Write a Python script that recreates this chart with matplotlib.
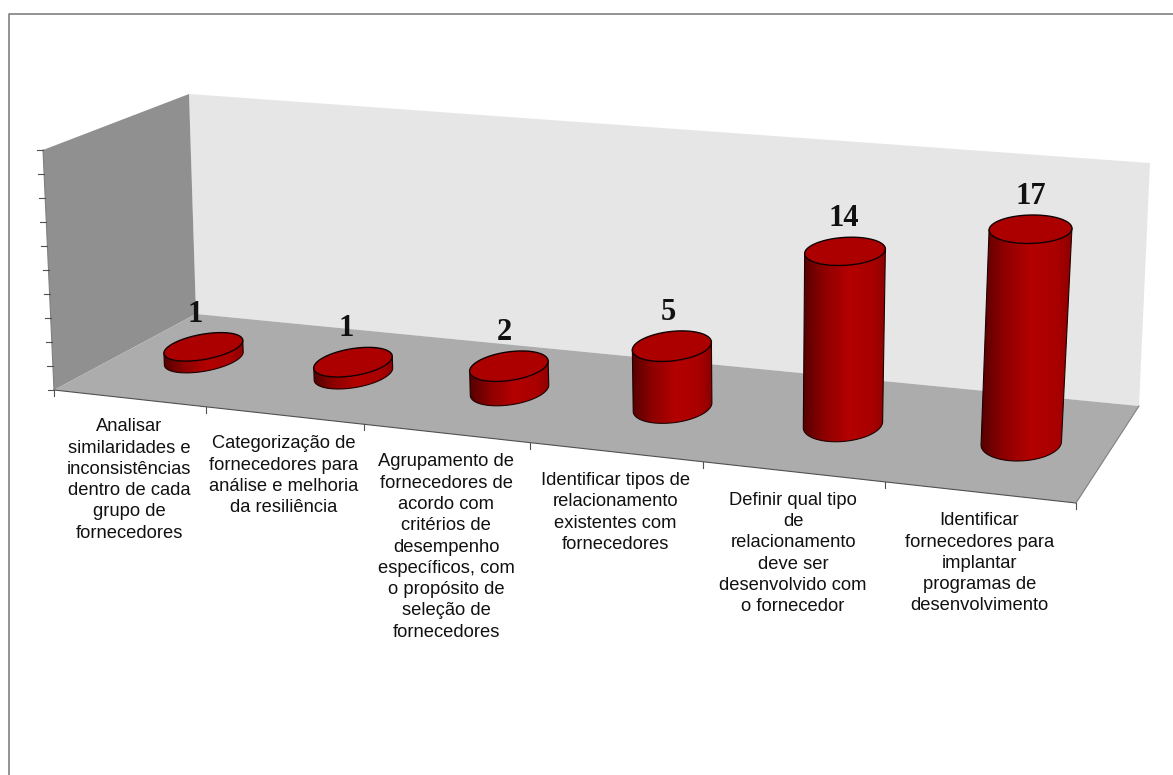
import matplotlib
matplotlib.use('Agg')
import matplotlib.pyplot as plt
import numpy as np
from matplotlib.colors import LinearSegmentedColormap
from matplotlib.patches import Polygon

categories = [
    'Analisar\nsimilaridades e\ninconsistências\ndentro de cada\ngrupo de\nfornecedores',
    'Categorização de\nfornecedores para\nanálise e melhoria\nda resiliência',
    'Agrupamento de\nfornecedores de\nacordo com\ncritérios de\ndesempenho\nespecíficos, com\no propósito de\nseleção de\nfornecedores',
    'Identificar tipos de\nrelacionamento\nexistentes com\nfornecedores',
    'Definir qual tipo\nde\nrelacionamento\ndeve ser\ndesenvolvido com\no fornecedor',
    'Identificar\nfornecedores para\nimplantar\nprogramas de\ndesenvolvimento',
]
values = [1, 1, 2, 5, 14, 17]
axis_ticks = [0, 2, 4, 6, 8, 10, 12, 14, 16, 18, 20]
axis_max = 20

# corners in pixels: front-left, front-right, back-right, back-left
floor_quad = [(54, 390), (1076, 503), (1139, 406), (196, 314)]
ceil_quad = [(43, 150), (1096, 238), (1150, 163), (189, 94)]


def homography(quad):
    src = [(0, 0), (1, 0), (1, 1), (0, 1)]
    A, b = [], []
    for (u, v), (x, y) in zip(src, quad):
        A.append([u, v, 1, 0, 0, 0, -u * x, -v * x])
        A.append([0, 0, 0, u, v, 1, -u * y, -v * y])
        b += [x, y]
    return np.append(np.linalg.solve(np.array(A, float), np.array(b, float)), 1).reshape(3, 3)


H_floor = homography(floor_quad)
H_ceil = homography(ceil_quad)


def apply(H, u, v):
    p = H @ np.array([u, v, np.ones_like(u)], float)
    return p[0] / p[2], p[1] / p[2]


def project(u, v, val):
    u = np.asarray(u, float)
    v = np.asarray(v, float)
    x0, y0 = apply(H_floor, u, v)
    x1, y1 = apply(H_ceil, u, v)
    t = val / axis_max
    return x0 + (x1 - x0) * t, y0 + (y1 - y0) * t


W, H = 1173, 775
fig = plt.figure(figsize=(W / 100, H / 100), dpi=100)
ax = fig.add_axes([0, 0, 1, 1])
ax.set_xlim(0, W)
ax.set_ylim(H, 0)
ax.axis('off')

# outer frame
ax.plot([9, 9, W], [H, 14, 14], color='#808080', lw=1.2)

# walls and floor
ax.add_patch(Polygon([ceil_quad[3], ceil_quad[2], floor_quad[2], floor_quad[3]], fc='#e6e6e6', ec='none'))
ax.add_patch(Polygon([ceil_quad[0], ceil_quad[3], floor_quad[3], floor_quad[0]], fc='#909090', ec='none'))
ax.add_patch(Polygon(floor_quad, fc='#acacac', ec='none'))

# value axis ticks on the side wall
ax.plot(*project(np.zeros(2), np.zeros(2), np.array([0, axis_max])), color='#808080', lw=0.8)
for tick in axis_ticks:
    x, y = project(0.0, 0.0, tick)
    ax.plot([x - 6, x], [y, y], color='#505050', lw=0.8)

# category axis
n = len(categories)
ex, ey = project(np.linspace(0, 1, 2), np.zeros(2), 0)
ax.plot(ex, ey, color='#505050', lw=0.8)
ax.plot(*project(np.ones(2), np.array([0, 1.0]), 0), color='#808080', lw=0.8)
for i in range(n + 1):
    x, y = project(i / n, 0.0, 0)
    ax.plot([x, x], [y, y + 6], color='#505050', lw=0.8)

side_cmap = LinearSegmentedColormap.from_list(
    'side', [(0, '#560000'), (0.25, '#8e0000'), (0.55, '#b40000'), (0.85, '#a80000'), (1, '#8c0000')])

ru, rv = 0.0348, 0.182
theta = np.linspace(0, 2 * np.pi, 181)[:-1]

for i, (label, val) in enumerate(zip(categories, values)):
    uc = (i + 0.5) / n
    ub = uc + 0.004 + ru * np.cos(theta)
    vb = 0.5 + rv * np.sin(theta)
    bx, by = project(ub, vb, 0)
    tx, ty = project(ub, vb, val)

    # lower arc of the base between the two silhouette points
    start = np.argmin(bx)
    bx, by = np.roll(bx, -start), np.roll(by, -start)
    tx, ty = np.roll(tx, -start), np.roll(ty, -start)
    end = np.argmax(bx)
    arcs = [np.arange(0, end + 1), np.append(np.arange(end, len(bx)), 0)]
    arc = arcs[0] if by[arcs[0]].mean() > by[arcs[1]].mean() else arcs[1]
    if bx[arc[0]] > bx[arc[-1]]:
        arc = arc[::-1]
    left_top = (tx[np.argmin(tx)], ty[np.argmin(tx)])
    right_top = (tx[np.argmax(tx)], ty[np.argmax(tx)])
    side_x = np.r_[left_top[0], bx[arc], right_top[0]]
    side_y = np.r_[left_top[1], by[arc], right_top[1]]

    side = Polygon(np.c_[side_x, side_y], fc='none', ec='none')
    ax.add_patch(side)
    img = ax.imshow(np.linspace(0, 1, 128).reshape(1, -1), cmap=side_cmap, aspect='auto',
                    extent=(side_x.min(), side_x.max(), side_y.max(), side_y.min()), zorder=2)
    img.set_clip_path(side)
    ax.plot(side_x, side_y, color='#200000', lw=0.8, zorder=3)
    ax.add_patch(Polygon(np.c_[tx, ty], fc='#ac0000', ec='#100000', lw=1.0, zorder=4))

    # value label above the top ellipse
    ax.text(tx.mean() - 9 + 10 * uc, ty.min() - 4, str(val), ha='center', va='bottom', fontsize=22,
            family='Liberation Serif', fontweight='bold', color='#111111', zorder=5)

    # category label under the front edge
    lx, ly = project(uc, 0.0, 0)
    ax.text(lx, ly + 20, label, ha='center', va='top', fontsize=13.2, linespacing=1.33,
            family='Liberation Sans', color='#111111', zorder=5)

ax.set_xlim(0, W)
ax.set_ylim(H, 0)
fig.savefig('out.png', dpi=100)
